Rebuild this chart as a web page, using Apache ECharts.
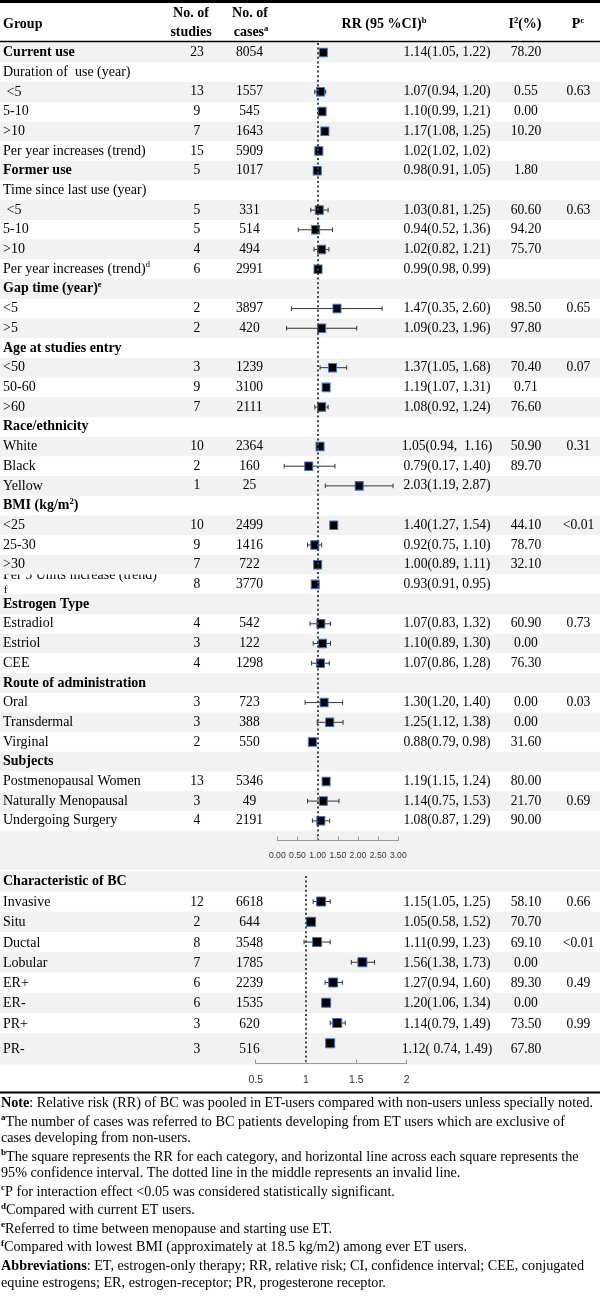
<!DOCTYPE html>
<html><head><meta charset="utf-8">
<script src="https://cdn.jsdelivr.net/npm/echarts@6.0.0/dist/echarts.min.js"></script>
<style>html,body{margin:0;padding:0;background:#fff}#c{width:600px;height:1308px}</style>
</head><body><div id="c"></div><script>
// ---------- DATA ----------
const topGroups = ["Current use","Duration of  use (year)"," <5","5-10",">10","Per year increases (trend)","Former use","Time since last use (year)"," <5","5-10",">10","Per year increases (trend)^d","Gap time (year)^e","<5",">5","Age at studies entry","<50","50-60",">60","Race/ethnicity","White","Black","Yellow","BMI (kg/m^2)","<25","25-30",">30","Per 5 Units increase (trend)\nf","Estrogen Type","Estradiol","Estriol","CEE","Route of administration","Oral","Transdermal","Virginal","Subjects","Postmenopausal Women","Naturally Menopausal","Undergoing Surgery"];
const topBoldRows = [0,6,12,15,19,23,28,32,36];
const topStudies = ["23","","13","9","7","15","5","","5","5","4","6","","2","2","","3","9","7","","10","2","1","","10","9","7","8","","4","3","4","","3","3","2","","13","3","4"];
const topCases = ["8054","","1557","545","1643","5909","1017","","331","514","494","2991","","3897","420","","1239","3100","2111","","2364","160","25","","2499","1416","722","3770","","542","122","1298","","723","388","550","","5346","49","2191"];
const topRR = ["1.14(1.05, 1.22)","","1.07(0.94, 1.20)","1.10(0.99, 1.21)","1.17(1.08, 1.25)","1.02(1.02, 1.02)","0.98(0.91, 1.05)","","1.03(0.81, 1.25)","0.94(0.52, 1.36)","1.02(0.82, 1.21)","0.99(0.98, 0.99)","","1.47(0.35, 2.60)","1.09(0.23, 1.96)","","1.37(1.05, 1.68)","1.19(1.07, 1.31)","1.08(0.92, 1.24)","","1.05(0.94,  1.16)","0.79(0.17, 1.40)","2.03(1.19, 2.87)","","1.40(1.27, 1.54)","0.92(0.75, 1.10)","1.00(0.89, 1.11)","0.93(0.91, 0.95)","","1.07(0.83, 1.32)","1.10(0.89, 1.30)","1.07(0.86, 1.28)","","1.30(1.20, 1.40)","1.25(1.12, 1.38)","0.88(0.79, 0.98)","","1.19(1.15, 1.24)","1.14(0.75, 1.53)","1.08(0.87, 1.29)"];
const topI2 = ["78.20","","0.55","0.00","10.20","","1.80","","60.60","94.20","75.70","","","98.50","97.80","","70.40","0.71","76.60","","50.90","89.70","","","44.10","78.70","32.10","","","60.90","0.00","76.30","","0.00","0.00","31.60","","80.00","21.70","90.00"];
const topP = ["","","0.63","","","","","","0.63","","","","","0.65","","","0.07","","","","0.31","","","","<0.01","","","","","0.73","","","","0.03","","","","","0.69",""];
// plotted marks (as drawn in the figure)
const topEst = [1.14,null,1.07,1.11,1.18,1.03,0.99,null,1.04,0.95,1.10,1.01,null,1.48,1.10,null,1.37,1.21,1.10,null,1.06,0.78,2.03,null,1.40,0.93,1.00,0.94,null,1.08,1.12,1.07,null,1.16,1.30,0.87,null,1.21,1.14,1.08];
const topLo  = [1.08,null,0.93,1.04,1.12,1.03,0.95,null,0.83,0.52,0.91,1.00,null,0.35,0.23,null,1.06,1.15,0.93,null,1.02,0.17,1.19,null,1.34,0.75,0.96,0.92,null,0.81,0.89,0.85,null,0.69,0.99,0.83,null,1.17,0.75,0.87];
const topHi  = [1.20,null,1.20,1.18,1.25,1.03,1.03,null,1.26,1.37,1.28,1.02,null,2.60,1.97,null,1.72,1.27,1.26,null,1.10,1.43,2.87,null,1.46,1.10,1.04,0.96,null,1.32,1.32,1.29,null,1.62,1.63,0.91,null,1.25,1.53,1.30];
const topTicks = [0,0.5,1,1.5,2,2.5,3];

const botGroups = ["Characteristic of BC","Invasive","Situ","Ductal","Lobular","ER+","ER-","PR+","PR-"];
const botBoldRows = [0];
const botStudies = ["","12","2","8","7","6","6","3","3"];
const botCases = ["","6618","644","3548","1785","2239","1535","620","516"];
const botRR = ["","1.15(1.05, 1.25)","1.05(0.58, 1.52)","1.11(0.99, 1.23)","1.56(1.38, 1.73)","1.27(0.94, 1.60)","1.20(1.06, 1.34)","1.14(0.79, 1.49)","1.12( 0.74, 1.49)"];
const botI2 = ["","58.10","70.70","69.10","0.00","89.30","0.00","73.50","67.80"];
const botP = ["","0.66","","<0.01","","0.49","","0.99",""];
const botEst = [null,1.15,1.05,1.11,1.56,1.27,1.20,1.31,1.24];
const botLo  = [null,1.07,1.03,0.98,1.45,1.19,1.18,1.24,1.22];
const botHi  = [null,1.24,1.07,1.24,1.68,1.36,1.22,1.39,1.26];
const botTicks = [0.5,1,1.5,2];

const headers = [
  ["{b|Group}", 3, 24.5, "left"],
  ["{b|No. of}", 191, 13.5, "center"],
  ["{b|studies}", 191, 32.5, "center"],
  ["{b|No. of}", 250, 13.5, "center"],
  ["{b|cases}{bs|a}", 251, 32.5, "center"],
  ["{b|RR (95 %CI)}{bs|b}", 384, 24.5, "center"],
  ["{b|I}{bs|2}{b|(%)}", 525, 24.5, "center"],
  ["{b|P}{bs|c}", 578, 24.5, "center"]
];
const footnotes = [
  "{fb|Note}: Relative risk (RR) of BC was pooled in ET-users compared with non-users unless specially noted.",
  "{fs|a}The number of cases was referred to BC patients developing from ET users which are exclusive of",
  "cases developing from non-users.",
  "{fs|b}The square represents the RR for each category, and horizontal line across each square represents the",
  "95% confidence interval. The dotted line in the middle represents an invalid line.",
  "{fs|c}P for interaction effect <0.05 was considered statistically significant.",
  "{fs|d}Compared with current ET users.",
  "{fs|e}Referred to time between menopause and starting use ET.",
  "{fs|f}Compared with lowest BMI (approximately at 18.5 kg/m2) among ever ET users.",
  "{fb|Abbreviations}: ET, estrogen-only therapy; RR, relative risk; CI, confidence interval; CEE, conjugated",
  "equine estrogens; ER, estrogen-receptor; PR, progesterone receptor."
];
const footY = [1103.5,1122,1138,1157,1173,1192,1210.5,1229,1247.5,1266,1283];

// ---------- LAYOUT ----------
const SERIF = "'Liberation Serif','Times New Roman',serif";
const FS = 14;      // group column
const FSN = 13.6;   // numeric columns
const FSH = 14;     // header
const FSF = 14.2;   // footnotes
const TOP = {top: 43, height: 797.5, ymin: -0.48, ymax: 40};
const BOT = {top: 876, height: 187.5, ymin: -0.26, ymax: 9};
const COLX = {group: 3, studies: 197, cases: 249.5, rr: 447, i2: 526, p: 578.5};
const botTextShift = [0, 0.05, 0.05, 0.05, 0.05, 0.05, 0.05, 0.05, 0.3];
const SHADE = '#f2f2f2';

const rich = {
  n: {fontFamily: SERIF, fontSize: FS, color: '#000'},
  b: {fontFamily: SERIF, fontSize: FS, fontWeight: 'bold', color: '#000'},
  s: {fontFamily: SERIF, fontSize: 8.5, color: '#000', padding: [0,0,8,0]},
  bs: {fontFamily: SERIF, fontSize: 8.5, fontWeight: 'bold', color: '#000', padding: [0,0,8,0]},
  num: {fontFamily: SERIF, fontSize: FSN, color: '#000'},
  h: {fontFamily: SERIF, fontSize: FSH, fontWeight: 'bold', color: '#000'},
  f: {fontFamily: SERIF, fontSize: FSF, color: '#000'},
  fb: {fontFamily: SERIF, fontSize: FSF, fontWeight: 'bold', color: '#000'},
  fs: {fontFamily: SERIF, fontSize: 9, fontWeight: 'bold', color: '#000', padding: [0,0,8,0]}
};
function richify(str, bold) {
  const base = bold ? 'b' : 'n';
  const sup = bold ? 'bs' : 's';
  return '{' + base + '|' + str.replace(/\^(\w)/g, '}{' + sup + '|$1}{' + base + '|') + '}';
}
function txt(text, x, y, align) {
  return {type: 'text', style: {text: text, x: x, y: y, align: align, verticalAlign: 'middle',
    fontFamily: SERIF, fontSize: FS, fill: '#000', rich: rich}};
}

function rowTextSeries(xi, yi, groups, bold, studies, cases, rr, i2, p, shift) {
  return {
    type: 'custom', xAxisIndex: xi, yAxisIndex: yi, z: 5, silent: true,
    data: groups.map((g, i) => [i]),
    renderItem: function (params, api) {
      const i = params.dataIndex;
      const y = api.coord([0, api.value(0) + (shift ? shift[i] : 0)])[1];
      const X = k => api.coord([COLX[k], 0])[0];
      const ch = [];
      const isB = bold.indexOf(i) >= 0;
      if (groups[i].indexOf('\n') < 0) ch.push(txt(richify(groups[i], isB), X('group'), y, 'left'));
      if (studies[i]) ch.push(txt('{num|' + studies[i] + '}', X('studies'), y, 'center'));
      if (cases[i]) ch.push(txt('{num|' + cases[i] + '}', X('cases'), y, 'center'));
      if (rr[i]) ch.push(txt('{num|' + rr[i] + '}', X('rr'), y, 'center'));
      if (i2[i]) ch.push(txt('{num|' + i2[i] + '}', X('i2'), y, 'center'));
      if (p[i]) ch.push(txt('{num|' + p[i] + '}', X('p'), y, 'center'));
      return {type: 'group', children: ch};
    }
  };
}
// wrapped/clipped group label (drawn under the row shading)
function clippedSeries(xi, yi, groups) {
  const rows = [];
  groups.forEach((g, i) => { if (g.indexOf('\n') >= 0) rows.push([i]); });
  return {
    type: 'custom', xAxisIndex: xi, yAxisIndex: yi, z: 0, silent: true, data: rows,
    renderItem: function (params, api) {
      const r = api.value(0);
      const parts = groups[r].split('\n');
      const y1 = api.coord([0, r - 0.47])[1];
      const y2 = api.coord([0, r + 0.28])[1];
      const x = api.coord([COLX.group, 0])[0];
      return {type: 'group', children: [
        txt('{n|' + parts[0] + '}', x, y1, 'left'),
        {type: 'text', style: {text: parts[1], x: x + 1, y: y2, align: 'left', verticalAlign: 'middle', fontFamily: SERIF, fontSize: 10, fill: '#000'}}
      ]};
    }
  };
}
function bandSeries(xi, yi, bands) {
  return {
    type: 'custom', xAxisIndex: xi, yAxisIndex: yi, z: 1, silent: true, data: bands,
    renderItem: function (params, api) {
      const p1 = api.coord([0, api.value(0)]);
      const p2 = api.coord([600, api.value(1)]);
      return {type: 'rect', shape: {x: p1[0], y: p1[1], width: p2[0] - p1[0], height: p2[1] - p1[1]}, style: {fill: SHADE}};
    }
  };
}
function whiskerSeries(xi, yi, lo, hi) {
  const d = [];
  lo.forEach((v, i) => { if (v != null) d.push([v, hi[i], i]); });
  return {
    type: 'custom', xAxisIndex: xi, yAxisIndex: yi, z: 3, silent: true, data: d,
    renderItem: function (params, api) {
      const a = api.coord([api.value(0), api.value(2)]);
      const b = api.coord([api.value(1), api.value(2)]);
      const h = 2.3, st = {stroke: '#333', lineWidth: 1};
      return {type: 'group', children: [
        {type: 'line', shape: {x1: a[0], y1: a[1], x2: b[0], y2: b[1]}, style: st},
        {type: 'line', shape: {x1: a[0], y1: a[1] - h, x2: a[0], y2: a[1] + h}, style: st},
        {type: 'line', shape: {x1: b[0], y1: b[1] - h, x2: b[0], y2: b[1] + h}, style: st}
      ]};
    }
  };
}
function squareSeries(xi, yi, est, size) {
  const d = [];
  est.forEach((v, i) => { if (v != null) d.push([v, i]); });
  return {
    type: 'scatter', xAxisIndex: xi, yAxisIndex: yi, z: 4, silent: true, data: d,
    symbol: 'rect', symbolSize: size,
    itemStyle: {color: '#000', borderColor: '#3f72c9', borderWidth: 1, opacity: 1},
    markLine: {silent: true, symbol: 'none', label: {show: false}, animation: false,
      lineStyle: {color: '#444', width: 2, type: [2, 2.6]}, data: [{xAxis: 1}]}
  };
}

const topBands = [];
for (let r = 0; r < topGroups.length; r += 2) topBands.push([r - 0.5, r + 0.5]);
topBands.push([39.5, 41.5]);
const botBands = [[-0.5, 0.5], [1.5, 2.5], [3.5, 4.5], [5.5, 6.5], [7.5, 9.05]];

const pageSeries = {
  type: 'custom', xAxisIndex: 4, yAxisIndex: 4, z: 6, silent: true, data: [[0]],
  renderItem: function (params, api) {
    const P = (x, y) => api.coord([x, y]);
    const ch = [];
    const rule = (y, w) => { const a = P(0, y), b = P(600, y); ch.push({type: 'line', shape: {x1: a[0], y1: a[1], x2: b[0], y2: b[1]}, style: {stroke: '#000', lineWidth: w}}); };
    rule(1.5, 3); rule(41.5, 1.6); rule(1092.5, 2.2);
    headers.forEach(h => { const p = P(h[1], h[2]); ch.push(txt(h[0].replace(/\{b\|/g, '{h|'), p[0], p[1], h[3])); });
    footnotes.forEach((f, i) => { const p = P(1, footY[i]); ch.push(txt('{f|' + f.replace(/\{(fb|fs)\|([^}]*)\}/g, '}{$1|$2}{f|') + '}', p[0], p[1], 'left')); });
    return {type: 'group', children: ch};
  }
};

const axisCommon = {
  z: 10,
  axisLine: {show: true, onZero: false, lineStyle: {color: '#9a9a9a', width: 1}},
  axisTick: {show: true, inside: true, length: 4, lineStyle: {color: '#9a9a9a'}},
  splitLine: {show: false}
};

const option = {
  animation: false,
  backgroundColor: '#fff',
  grid: [
    {left: 277.3, width: 121, top: TOP.top, height: TOP.height, outerBoundsMode: 'none'},
    {left: 255.7, width: 151, top: BOT.top, height: BOT.height, outerBoundsMode: 'none'},
    {left: 0, width: 600, top: TOP.top, height: TOP.height, outerBoundsMode: 'none'},
    {left: 0, width: 600, top: BOT.top, height: BOT.height, outerBoundsMode: 'none'},
    {left: 0, width: 600, top: 0, height: 1308, outerBoundsMode: 'none'}
  ],
  xAxis: [
    Object.assign({type: 'value', gridIndex: 0, position: 'bottom', min: topTicks[0], max: topTicks[topTicks.length - 1], interval: 0.5,
      axisLabel: {margin: 11, fontSize: 8.6, color: '#333', fontFamily: "'Liberation Sans Narrow','Liberation Sans',sans-serif",
        formatter: v => v.toFixed(2)}}, axisCommon),
    Object.assign({type: 'value', gridIndex: 1, position: 'bottom', min: botTicks[0], max: botTicks[botTicks.length - 1], interval: 0.5,
      axisLabel: {margin: 11, fontSize: 10.5, color: '#333', fontFamily: "'Liberation Sans',Arial,sans-serif"}}, axisCommon),
    {type: 'value', gridIndex: 2, min: 0, max: 600, show: false},
    {type: 'value', gridIndex: 3, min: 0, max: 600, show: false},
    {type: 'value', gridIndex: 4, min: 0, max: 600, show: false}
  ],
  yAxis: [
    {type: 'value', gridIndex: 0, inverse: true, min: TOP.ymin, max: TOP.ymax, show: false},
    {type: 'value', gridIndex: 1, inverse: true, min: BOT.ymin, max: BOT.ymax, show: false},
    {type: 'value', gridIndex: 2, inverse: true, min: TOP.ymin, max: TOP.ymax, show: false},
    {type: 'value', gridIndex: 3, inverse: true, min: BOT.ymin, max: BOT.ymax, show: false},
    {type: 'value', gridIndex: 4, inverse: true, min: 0, max: 1308, show: false}
  ],
  series: [
    clippedSeries(2, 2, topGroups),
    bandSeries(2, 2, topBands),
    bandSeries(3, 3, botBands),
    whiskerSeries(0, 0, topLo, topHi),
    whiskerSeries(1, 1, botLo, botHi),
    squareSeries(0, 0, topEst, [8, 8.5]),
    squareSeries(1, 1, botEst, [9, 9]),
    rowTextSeries(2, 2, topGroups, topBoldRows, topStudies, topCases, topRR, topI2, topP, null),
    rowTextSeries(3, 3, botGroups, botBoldRows, botStudies, botCases, botRR, botI2, botP, botTextShift),
    pageSeries
  ]
};
const chart = echarts.init(document.getElementById('c'), null, {renderer: 'canvas'});
chart.setOption(option);
</script></body></html>
